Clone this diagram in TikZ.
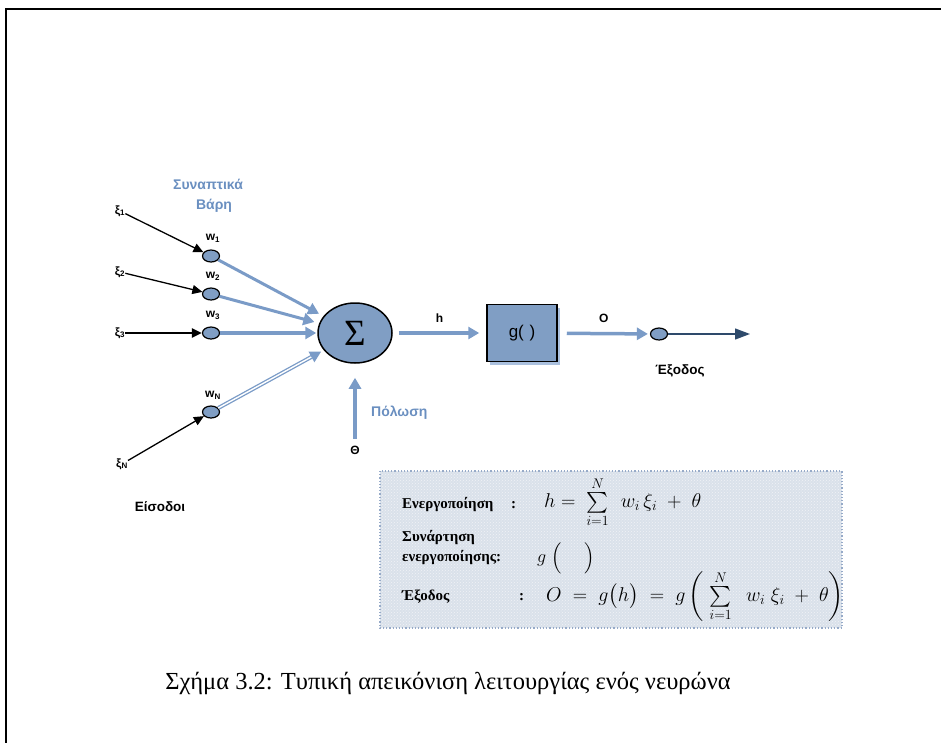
\RequirePackage{fix-cm}
\documentclass[tikz,border=0pt]{standalone}
\usepackage{exscale}
\usepackage{fontspec}
\setmainfont{Liberation Serif}
\newfontfamily\lab{Liberation Sans}
\usetikzlibrary{arrows.meta,shapes.geometric,shadows,patterns}
\definecolor{nodeblue}{RGB}{128,158,196}
\definecolor{arrowblue}{RGB}{122,155,199}
\definecolor{labelblue}{RGB}{106,143,192}
\definecolor{navyout}{RGB}{46,74,107}
\definecolor{shadowblue}{RGB}{170,192,222}
\definecolor{boxfill}{RGB}{218,225,234}
\definecolor{boxborder}{RGB}{150,170,200}
\begin{document}
\begin{tikzpicture}[x=1pt,y=-1pt,
  lbl/.style={font=\lab\fontsize{12}{14}\selectfont\bfseries, inner sep=0pt},
  biglbl/.style={font=\lab\fontsize{13.5}{15}\selectfont\bfseries, inner sep=0pt},
  bluelbl/.style={font=\lab\fontsize{14}{16}\selectfont\bfseries, text=labelblue, inner sep=0pt},
  wnode/.style={ellipse, draw=black, line width=1.2pt, fill=nodeblue, minimum width=17pt, minimum height=12pt, inner sep=0pt},
  inarrow/.style={draw=black, line width=1.3pt, -{Triangle[length=10pt,width=9pt]}},
  bluearrow/.style={draw=arrowblue, line width=3.5pt, -{Triangle[length=11pt,width=12pt]}},
  boxlbl/.style={font=\fontsize{15}{17}\selectfont\bfseries, inner sep=0pt, anchor=west},
  boxmath/.style={font=\fontsize{20}{22}\selectfont, inner sep=0pt, anchor=west}
]
\useasboundingbox (0,0) rectangle (941,743);
% frame
\draw[line width=2.5pt] (6,743) -- (6,9) -- (945,9);

% labels
\node[bluelbl] (syn) at (208,184) {Συναπτικά};
\node[bluelbl] (var) at (214,206) {Βάρη};
\node[biglbl] (eis) at (160,507) {Είσοδοι};

% inputs
\node[lbl] (x1) at (120,211) {ξ\textsubscript{1}};
\node[lbl] (x2) at (120,272) {ξ\textsubscript{2}};
\node[lbl] (x3) at (120,333) {ξ\textsubscript{3}};
\node[lbl] (xn) at (122,464) {ξ\textsubscript{N}};

% weights
\node[wnode] (w1) at (211,256) {};
\node[wnode] (w2) at (211,294) {};
\node[wnode] (w3) at (211,333) {};
\node[wnode] (wn) at (211,412) {};
\node[lbl] (lw1) at (213,238) {w\textsubscript{1}};
\node[lbl] (lw2) at (213,276) {w\textsubscript{2}};
\node[lbl] (lw3) at (213,315) {w\textsubscript{3}};
\node[lbl] (lwn) at (213,395) {w\textsubscript{N}};

% sum node
\node[ellipse, draw=black, line width=1.5pt, fill=nodeblue, minimum width=74pt, minimum height=60pt, inner sep=0pt,
      font=\fontsize{37}{38}\selectfont] (sum) at (355,333) {Σ};

% g box
\node[draw=black, line width=1.5pt, fill=nodeblue, minimum width=70pt, minimum height=57pt, inner sep=0pt,
      drop shadow={shadow xshift=3pt, shadow yshift=-3pt, fill=shadowblue, opacity=1},
      font=\lab\fontsize{17}{18}\selectfont] (g) at (522,333) {g(\,\,)};

% output node
\node[wnode] (out) at (659,334) {};
\coordinate (end) at (750,334);
\node[biglbl] (exo) at (680,371) {Έξοδος};

% bias
\node[lbl] (theta) at (355,450) {Θ};
\node[bluelbl, anchor=west] (pol) at (371,413) {Πόλωση};

% input arrows
\draw[inarrow] (x1) -- (w1);
\draw[inarrow] (x2) -- (w2);
\draw[inarrow, line width=2pt] (x3) -- (w3);
\draw[inarrow] (xn) -- (wn);

% weight arrows
\draw[bluearrow, line width=3pt, shorten >=5pt] (w1) -- (sum);
\draw[bluearrow, line width=3pt, shorten >=5pt] (w2) -- (sum);
\draw[bluearrow, shorten >=1pt] (w3) -- (sum);
\draw[bluearrow, line width=1.3pt, double=white, double distance=1.4pt, shorten >=3pt] (wn) -- (sum);
\draw[bluearrow, shorten <=7pt, shorten >=14pt] (theta) -- (sum);

% main flow
\draw[bluearrow, shorten <=6pt, shorten >=7pt] (sum) -- node[lbl, above=9pt] (h) {h} (g);
\draw[bluearrow, shorten <=9pt, shorten >=2pt] (g) -- node[lbl, above=9pt] (o) {O} (out);
\draw[draw=navyout, line width=1.3pt, -{Triangle[length=15pt,width=11pt]}] (out) -- (end);

% formula box
\fill[boxfill] (380,471) rectangle (842,628);
\fill[pattern=crosshatch dots, pattern color=white!60!boxfill] (380,471) rectangle (842,628);
\draw[boxborder, dotted, line width=1.2pt] (380,471) rectangle (842,628);

\node[boxlbl] (l1) at (402,505) {Ενεργοποίηση};
\node[boxlbl] (c1) at (511,505) {:};
\node[boxmath] (f1) at (544,502) {$h=\;\sum\limits_{i=1}^{N}\;\, w_i\,\xi_i\;+\;\theta$};
\node[boxlbl] (l2) at (402,538) {Συνάρτηση};
\node[boxlbl] (l3) at (402,558) {ενεργοποίησης:};
\node[boxmath, font=\fontsize{18}{20}\selectfont] (f2) at (537,558) {$g\;\Big(\quad\;\Big)$};
\node[boxlbl] (l4) at (402,597) {Έξοδος};
\node[boxlbl] (c4) at (519,597) {:};
\node[boxmath] (f3) at (546,596) {$O\;=\;g\big(h\big)\;=\;g\left(\;\sum\limits_{i=1}^{N}\;\; w_i\;\xi_i\;+\;\theta\right)$};

% caption
\node[font=\fontsize{24.5}{28}\selectfont, inner sep=0pt] (cap) at (448,683) {Σχήμα 3.2: Τυπική απεικόνιση λειτουργίας ενός νευρώνα};
\end{tikzpicture}
\end{document}
